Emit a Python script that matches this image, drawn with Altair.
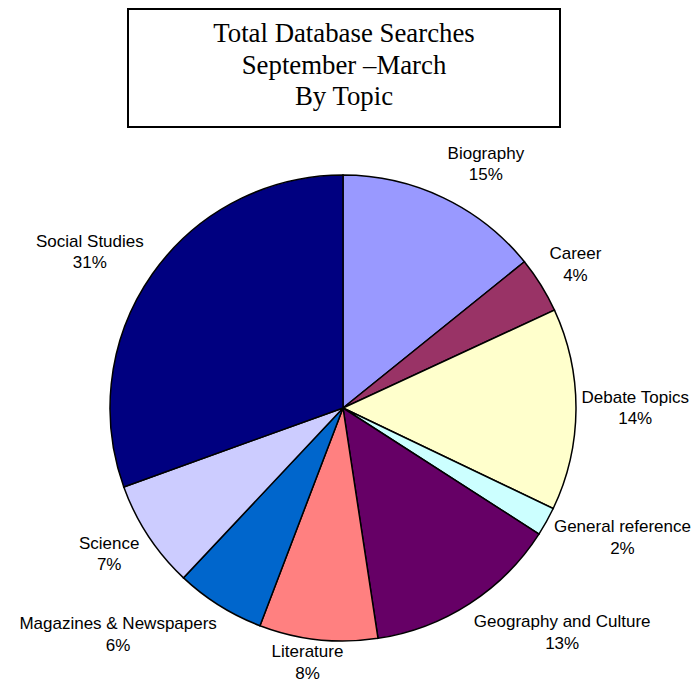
import altair as alt
import pandas as pd

# ---- data ----
topics = ["Biography", "Career", "Debate Topics", "General reference",
          "Geography and Culture", "Literature", "Magazines & Newspapers",
          "Science", "Social Studies"]
shares = [14.2, 3.9, 14.0, 2.0, 13.5, 8.2, 6.2, 7.5, 30.5]
pct_labels = ["15%", "4%", "14%", "2%", "13%", "8%", "6%", "7%", "31%"]
colors = ["#9999FF", "#993366", "#FFFFCC", "#CCFFFF", "#660066",
          "#FF8080", "#0066CC", "#CCCCFF", "#000080"]
title_lines = ["Total Database Searches", "September \u2013March", "By Topic"]

df = pd.DataFrame({"topic": topics, "share": shares, "pct": pct_labels,
                   "idx": list(range(len(topics)))})

# layout constants (pixels)
W, H = 683, 674
CX, CY, R = 335, 400, 233
LRX, LRY = 246, 269
FS = 17
LH = 21.5

base = alt.Chart(df)

pie = base.mark_arc(outerRadius=R, stroke="black", strokeWidth=1.5).encode(
    theta=alt.Theta("share:Q", stack=True),
    order=alt.Order("idx:Q", sort="ascending"),
    color=alt.Color("topic:N", scale=alt.Scale(domain=topics, range=colors), legend=None),
    x=alt.value(CX),
    y=alt.value(CY),
)

labels = base.transform_window(
    cum="sum(share)", sort=[alt.SortField("idx")], frame=[None, 0]
).transform_joinaggregate(
    total="sum(share)"
).transform_calculate(
    ang="2*PI*(datum.cum - datum.share/2)/datum.total",
    s="sin(datum.ang)",
    n="length(datum.topic)",
    n1="length(replace(datum.topic, regexp('[^ijl]', 'g'), ''))",
    n2="length(replace(datum.topic, regexp('[^ft ]', 'g'), ''))",
    n3="length(replace(datum.topic, regexp('[^r]', 'g'), ''))",
    n4="length(replace(datum.topic, regexp('[^csz]', 'g'), ''))",
    nu="length(replace(datum.topic, regexp('[^A-Z&mw]', 'g'), ''))",
).transform_calculate(
    w=(f"{FS}*(0.222*datum.n1 + 0.278*datum.n2 + 0.333*datum.n3 + 0.5*datum.n4"
       " + 0.667*datum.nu + 0.556*(datum.n - datum.n1 - datum.n2 - datum.n3 - datum.n4 - datum.nu))"),
    k="clamp(datum.s*2.5, -1, 1)",
).transform_calculate(
    lx=f"clamp({CX} + {LRX}*datum.s + datum.k*(datum.w/2 - 2), datum.w/2 + 4, {W} - datum.w/2 - 1)",
    ly=f"min({CY} - {LRY}*cos(datum.ang) - 1 - {LH}/2, {H} - 29 - {LH}/2 + 10)",
    label="datum.topic + '\\n' + datum.pct",
).mark_text(
    font="Liberation Sans", fontSize=FS, lineHeight=LH, lineBreak="\n",
    align="center", baseline="middle", color="black",
).encode(
    x=alt.X("lx:Q", scale=None),
    y=alt.Y("ly:Q", scale=None),
    text="label:N",
)

one = pd.DataFrame({"k": [0]})
box = alt.Chart(one).mark_rect(fill="white", stroke="black", strokeWidth=2).encode(
    x=alt.value(120), x2=alt.value(552), y=alt.value(1), y2=alt.value(119)
)
title = alt.Chart(one).mark_text(
    font="Liberation Serif", fontSize=26.8, lineHeight=31.5, baseline="middle",
    align="center", text=title_lines, color="black",
).encode(x=alt.value(336), y=alt.value(26))

chart = alt.layer(box, title, pie, labels).properties(
    width=W, height=H, autosize=alt.AutoSizeParams(type="none"), padding=0,
    background="white",
).configure_view(stroke=None)

chart.save("out.html", embed_options={"renderer": "svg", "actions": False})
